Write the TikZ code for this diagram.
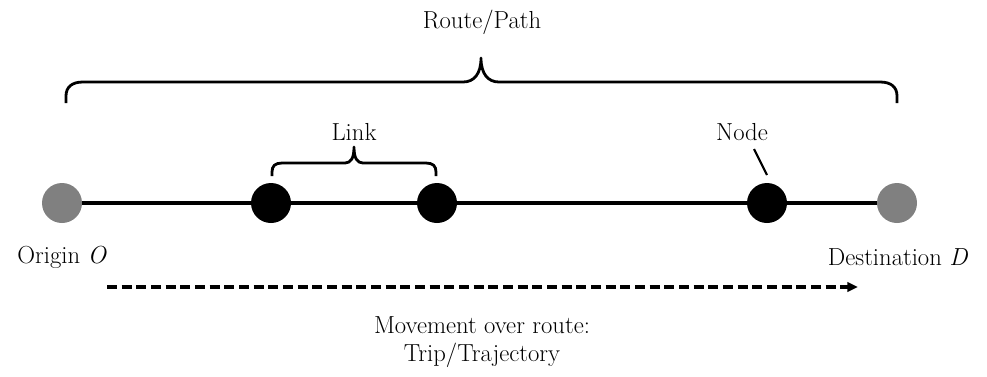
\documentclass[tikz,border=0pt]{standalone}
\usetikzlibrary{arrows.meta}
\begin{document}
\begin{tikzpicture}[x=0.75pt,y=-0.75pt,
  lbl/.style={inner sep=0pt,font=\fontsize{18.5}{21}\selectfont},
  endpt/.style={circle,fill=black!50,minimum size=30pt,inner sep=0pt},
  midpt/.style={circle,fill=black,minimum size=30pt,inner sep=0pt},
  edgeline/.style={line width=2.4pt},
  bracestyle/.style={line width=2.1pt,line join=round},
  trip/.style={line width=2.3pt,dash pattern=on 7.5pt off 3.5pt,-{Triangle[length=8pt,width=7pt]}}]
\useasboundingbox (0,0) rectangle (987,376);
% route line
\node[endpt] (O) at (62,203) {};
\node[midpt] (n1) at (271,203) {};
\node[midpt] (n2) at (437,203) {};
\node[midpt] (n3) at (767,203) {};
\node[endpt] (D) at (897,203) {};
\draw[edgeline] (O) -- (n1) -- (n2) -- (n3) -- (D);
% big brace
\coordinate (bl) at (66,103);
\coordinate (br) at (897,103);
\coordinate (btip) at (481,58);
\draw[bracestyle] (bl) -- (66,96) .. controls (66,87) and (72,82) .. (83,82)
  -- (463,82) .. controls (474,82) and (481,74) .. (btip)
  .. controls (481,74) and (488,82) .. (499,82)
  -- (880,82) .. controls (891,82) and (897,87) .. (897,96) -- (br);
\node[lbl] (route) at (482,22) {Route/Path};
% link brace
\coordinate (ll) at (272,176);
\coordinate (lr) at (436,176);
\coordinate (ltip) at (354,147);
\draw[bracestyle] (ll) -- (272,172) .. controls (272,166) and (275,163) .. (282,163)
  -- (345,163) .. controls (351,163) and (354,158) .. (ltip)
  .. controls (354,158) and (357,163) .. (363,163)
  -- (426,163) .. controls (433,163) and (436,166) .. (436,172) -- (lr);
\node[lbl] (link) at (354,132) {Link};
% node label
\node[lbl] (nodelbl) at (742,132) {Node};
\coordinate (nt) at (754,149);
\coordinate (nb) at (767,175);
\draw[line width=1.6pt] (nt) -- (nb);
% endpoint labels
\node[lbl] (olbl) at (62,257) {Origin \textit{O}};
\node[lbl] (dlbl) at (898,257) {Destination \textit{D}};
% trip arrow
\coordinate (ts) at (107,287);
\coordinate (te) at (858,287);
\draw[trip] (ts) -- (te);
\node[lbl,align=center] (mv) at (482,342) {Movement over route:\\Trip/Trajectory};
\end{tikzpicture}
\end{document}
